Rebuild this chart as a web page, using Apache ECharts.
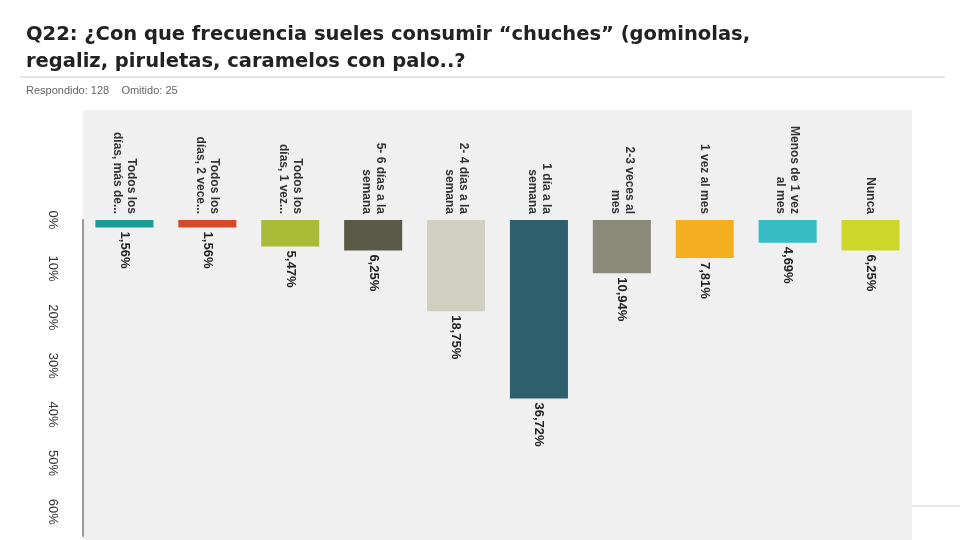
<!DOCTYPE html>
<html>
<head>
<meta charset="utf-8" />
<title>Q22</title>
<script src="https://cdn.jsdelivr.net/npm/echarts@6/dist/echarts.min.js"></script>
<style>
	body { margin: 0; background: #fff; }
	#main { width: 960px; height: 540px; }
</style>
</head>
<body>
<div id="main"></div>
<script>
	// categorias y valores (%)
	var categories = ['Todos los\ndías, más de...', 'Todos los\ndías, 2 vece...', 'Todos los\ndías, 1 vez...',
		'5- 6 días a la\nsemana', '2- 4 días a la\nsemana', '1 día a la\nsemana', '2-3 veces al\nmes',
		'1 vez al mes', 'Menos de 1 vez\nal mes', 'Nunca'];
	var values = [1.56, 1.56, 5.47, 6.25, 18.75, 36.72, 10.94, 7.81, 4.69, 6.25];
	var valueLabels = ['1,56%', '1,56%', '5,47%', '6,25%', '18,75%', '36,72%', '10,94%', '7,81%', '4,69%', '6,25%'];
	var colors = ['#1b9b95', '#d5492a', '#a9ba37', '#5a5946', '#d1cfc1', '#2d5f6c', '#8a8a78', '#f5ae22', '#36bcc4', '#ced62c'];

	var font = '"Liberation Sans Narrow", "Liberation Sans", Arial, sans-serif';
	var chart = echarts.init(document.getElementById('main'));

	chart.setOption({
		animation: false,
		title: {
			text: 'Q22: ¿Con que frecuencia sueles consumir “chuches” (gominolas,\nregaliz, piruletas, caramelos con palo..?',
			left: 21, top: 16,
			textStyle: { fontFamily: '"DejaVu Sans", Arial', fontSize: 19.5, fontWeight: 'bold', color: '#222', lineHeight: 27 },
			subtext: 'Respondido: 128    Omitido: 25',
			subtextStyle: { fontFamily: '"Liberation Sans", Arial', fontSize: 11, color: '#666' },
			itemGap: 10
		},
		graphic: [
			{ type: 'rect', z: -10, shape: { x: 83, y: 110, width: 829, height: 430 }, style: { fill: '#f0f0f0' } },
			{ type: 'line', shape: { x1: 20, y1: 77, x2: 945, y2: 77 }, style: { stroke: '#ccc', lineWidth: 1 } },
			{ type: 'line', shape: { x1: 912, y1: 506, x2: 960, y2: 506 }, style: { stroke: '#ccc', lineWidth: 1 } }
		],
		grid: { left: 83, right: 48, top: 220, bottom: 4 },
		xAxis: {
			type: 'category',
			position: 'top',
			data: categories,
			axisLine: { show: false },
			axisTick: { show: false },
			axisLabel: {
				interval: 0, rotate: -90, margin: 6,
				fontFamily: font, fontSize: 12, fontWeight: 'bold', color: '#333', lineHeight: 14
			}
		},
		yAxis: {
			type: 'value',
			inverse: true,
			min: 0, max: 65, interval: 10,
			axisLine: { show: true, lineStyle: { color: '#999', width: 2 } },
			axisTick: { show: false },
			splitLine: { show: false },
			axisLabel: {
				showMaxLabel: false, rotate: -90, margin: 24,
				formatter: '{value}%',
				fontFamily: font, fontSize: 13, color: '#333'
			}
		},
		series: [{
			type: 'bar',
			barCategoryGap: '30%',
			data: values.map(function (v, i) { return { value: v, itemStyle: { color: colors[i] } }; }),
			label: {
				show: true, position: 'bottom', rotate: -90, distance: 4,
				align: 'left', verticalAlign: 'middle',
				formatter: function (p) { return valueLabels[p.dataIndex]; },
				fontFamily: font, fontSize: 13, fontWeight: 'bold', color: '#222'
			}
		}]
	});
</script>
</body>
</html>
